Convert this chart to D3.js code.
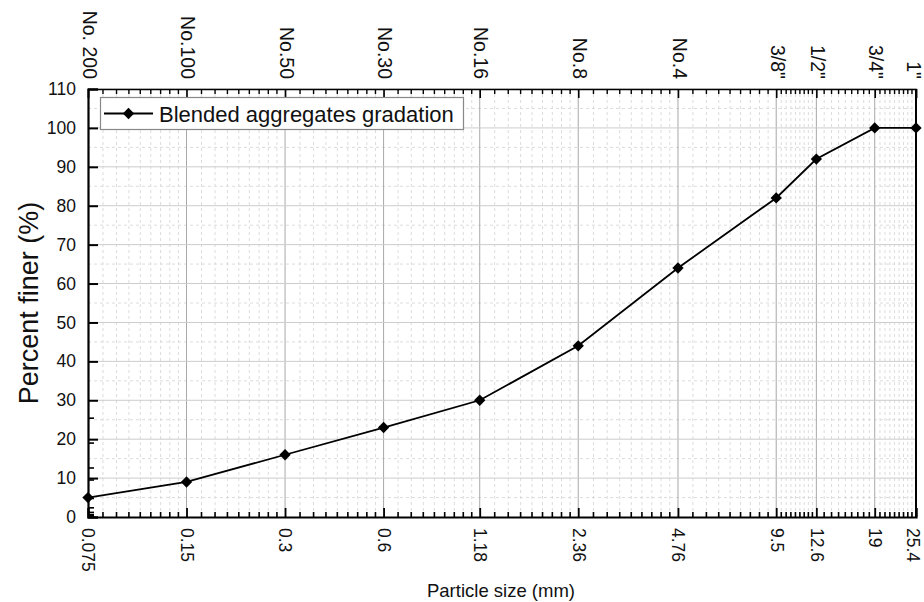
<!DOCTYPE html>
<html>
<head>
<meta charset="utf-8">
<script src="https://cdn.jsdelivr.net/npm/d3@7/dist/d3.min.js"></script>
<style>
  html, body { margin: 0; padding: 0; background: #fff; }
  svg { display: block; font-family: "Liberation Sans", Arial, sans-serif; }
</style>
</head>
<body>
<svg id="chart" width="924" height="602"></svg>
<script>
// Sieve openings (mm) and the matching sieve designations
const sieveSizes = [0.075, 0.15, 0.3, 0.6, 1.18, 2.36, 4.76, 9.5, 12.6, 19, 25.4];
const sieveNames = ["No. 200", "No.100", "No.50", "No.30", "No.16", "No.8", "No.4", "3/8\"", "1/2\"", "3/4\"", "1\""];
// Cumulative percent passing for the blended aggregates
const percentFiner = [5, 9, 16, 23, 30, 44, 64, 82, 92, 100, 100];
const yTicks = d3.range(0, 111, 10);
const yMinorGrid = d3.range(5, 110, 10);
const seriesName = "Blended aggregates gradation";

const svg = d3.select("#chart");
const margin = { left: 88, right: 8, top: 89, bottom: 85 };
const W = 924, H = 602;

const x = d3.scaleLog()
  .domain([sieveSizes[0], sieveSizes[sieveSizes.length - 1]])
  .range([margin.left, W - margin.right]);
const y = d3.scaleLinear().domain([0, 110]).range([H - margin.bottom, margin.top]);

// 8 evenly spaced minor ticks between each pair of neighbouring sieves
const minorX = [];
for (let i = 0; i < sieveSizes.length - 1; i++) {
  const a = sieveSizes[i], b = sieveSizes[i + 1];
  for (let k = 1; k <= 8; k++) minorX.push(a + k * (b - a) / 9);
}

const x0 = x.range()[0], x1 = x.range()[1];
const y0 = y.range()[0], y1 = y.range()[1];
const lastIdx = sieveSizes.length - 1;

// Grid: dashed minor lines beneath solid major lines
const grid = svg.append("g");
grid.selectAll(".vminor").data(minorX).join("line")
  .attr("x1", d => x(d)).attr("x2", d => x(d)).attr("y1", y0).attr("y2", y1)
  .attr("stroke", "#dcdcdc").attr("stroke-width", 1).attr("stroke-dasharray", "3,3");
grid.selectAll(".hminor").data(yMinorGrid).join("line")
  .attr("x1", x0).attr("x2", x1).attr("y1", d => y(d)).attr("y2", d => y(d))
  .attr("stroke", "#dcdcdc").attr("stroke-width", 1).attr("stroke-dasharray", "3,3");
grid.selectAll(".vmajor").data(sieveSizes.slice(1)).join("line")
  .attr("x1", d => x(d)).attr("x2", d => x(d)).attr("y1", y0).attr("y2", y1)
  .attr("stroke", "#a8a8a8").attr("stroke-width", 1);
grid.selectAll(".hmajor").data(yTicks.slice(1)).join("line")
  .attr("x1", x0).attr("x2", x1).attr("y1", d => y(d)).attr("y2", d => y(d))
  .attr("stroke", "#cccccc").attr("stroke-width", 1);

// Bottom axis: sieve openings, labels turned 90 degrees
// (in the rotated frame a positive y moves the label left; the last one is nudged inside)
const axisB = svg.append("g").attr("transform", `translate(0,${y0})`)
  .call(d3.axisBottom(x).tickValues(sieveSizes).tickSize(-9).tickFormat(d => String(d)));
axisB.append("g").selectAll("line").data(minorX).join("line")
  .attr("x1", d => x(d)).attr("x2", d => x(d)).attr("y1", 0).attr("y2", -5)
  .attr("stroke", "#000").attr("stroke-width", 1.6);
axisB.select(".domain").attr("stroke-width", 2.2);
axisB.selectAll(".tick line").attr("stroke-width", 1.8);
axisB.selectAll(".tick text")
  .attr("transform", "rotate(90)").attr("x", 11)
  .attr("y", (d, i) => i === lastIdx ? 3 : 0).attr("dy", "0.35em")
  .attr("text-anchor", "start").attr("font-size", 17.5).attr("fill", "#111");

// Top axis: sieve designations
const axisT = svg.append("g").attr("transform", `translate(0,${y1})`)
  .call(d3.axisTop(x).tickValues(sieveSizes).tickSize(-9).tickFormat((d, i) => sieveNames[i]));
axisT.append("g").selectAll("line").data(minorX).join("line")
  .attr("x1", d => x(d)).attr("x2", d => x(d)).attr("y1", 0).attr("y2", 5)
  .attr("stroke", "#000").attr("stroke-width", 1.4);
axisT.select(".domain").attr("stroke-width", 1.4);
axisT.selectAll(".tick line").attr("stroke-width", 1.6);
axisT.selectAll(".tick text")
  .attr("transform", "rotate(90)").attr("x", -10)
  .attr("y", (d, i) => i === lastIdx ? 3 : -1).attr("dy", "0.35em")
  .attr("text-anchor", "end").attr("font-size", 19.5).attr("fill", "#111");

// Left axis: percent finer
const axisL = svg.append("g").attr("transform", `translate(${x0},0)`)
  .call(d3.axisLeft(y).tickValues(yTicks).tickSize(-10).tickPadding(12));
axisL.append("g").selectAll("line").data(sieveSizes.filter(d => d < 110)).join("line")
  .attr("x1", 0).attr("x2", 6).attr("y1", d => y(d)).attr("y2", d => y(d))
  .attr("stroke", "#000").attr("stroke-width", 1.6);
axisL.select(".domain").attr("stroke-width", 2.2);
axisL.selectAll(".tick line").attr("stroke-width", 2);
axisL.selectAll(".tick text").attr("font-size", 17.5).attr("fill", "#111");

// Right frame edge
svg.append("line").attr("x1", x1).attr("x2", x1).attr("y1", y0).attr("y2", y1)
  .attr("stroke", "#000").attr("stroke-width", 2);

// Gradation curve
const pts = sieveSizes.map((d, i) => [d, percentFiner[i]]);
svg.append("path").datum(pts)
  .attr("fill", "none").attr("stroke", "#000").attr("stroke-width", 1.8)
  .attr("d", d3.line().x(d => x(d[0])).y(d => y(d[1])));
const diamond = d3.symbol(d3.symbolSquare, 64);
svg.append("g").selectAll("path").data(pts).join("path")
  .attr("d", diamond)
  .attr("transform", d => `translate(${x(d[0])},${y(d[1])}) rotate(45)`)
  .attr("fill", "#000");

// Legend
const lg = svg.append("g");
lg.append("rect").attr("x", 100.5).attr("y", 97.5).attr("width", 363).attr("height", 32)
  .attr("fill", "#fff").attr("stroke", "#888").attr("stroke-width", 1.2);
lg.append("line").attr("x1", 104).attr("x2", 153).attr("y1", 113.5).attr("y2", 113.5)
  .attr("stroke", "#000").attr("stroke-width", 1.8);
lg.append("path").attr("d", diamond).attr("transform", "translate(128.5,113.5) rotate(45)")
  .attr("fill", "#000");
lg.append("text").attr("x", 159).attr("y", 114).attr("dy", "0.35em")
  .attr("font-size", 22).attr("fill", "#111").text(seriesName);

// Axis titles
svg.append("text").attr("transform", `translate(38,${(y0 + y1) / 2}) rotate(-90)`)
  .attr("text-anchor", "middle").attr("font-size", 27).attr("fill", "#111")
  .text("Percent finer (%)");
svg.append("text").attr("x", 501).attr("y", 597)
  .attr("text-anchor", "middle").attr("font-size", 18.5).attr("fill", "#111")
  .text("Particle size (mm)");
</script>
</body>
</html>
